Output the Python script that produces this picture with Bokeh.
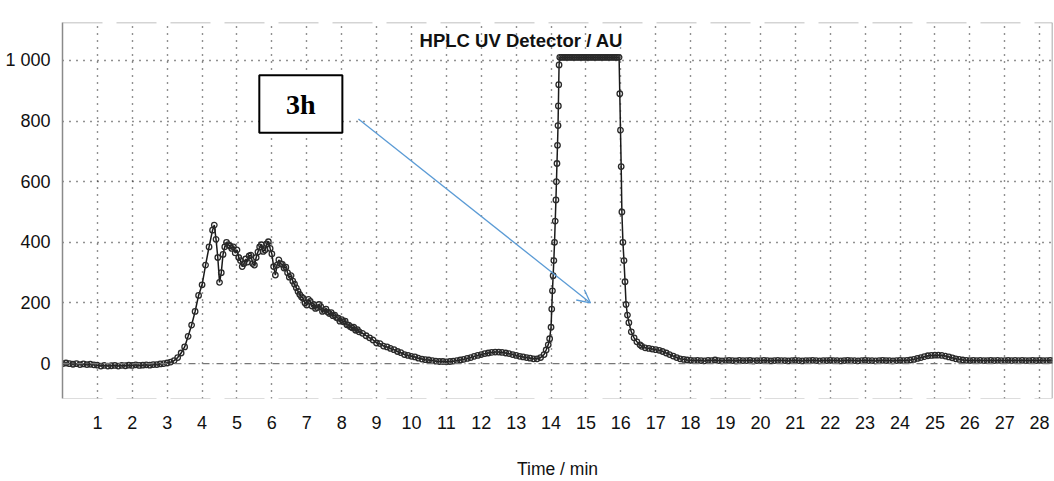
from bokeh.plotting import figure
from bokeh.models import (Range1d, FixedTicker, Span, Label, BoxAnnotation,
                          Arrow, OpenHead, ColumnDataSource)
from bokeh.embed import file_html
from bokeh.resources import INLINE

# ---------------- data ----------------
time_min = [
    0.0, 0.1, 0.2, 0.3, 0.4, 0.5, 0.6, 0.7, 0.8, 0.9, 1.0, 1.1, 1.2, 1.3, 1.4, 1.5, 1.6, 1.7, 1.8, 1.9,
    2.0, 2.1, 2.2, 2.3, 2.4, 2.5, 2.6, 2.7, 2.8, 2.9, 3.0, 3.1, 3.2, 3.3, 3.4, 3.5, 3.6, 3.7, 3.8, 3.9,
    4.0, 4.1, 4.2,
    4.30, 4.35, 4.40, 4.45, 4.50, 4.55, 4.60, 4.65, 4.70, 4.75, 4.80, 4.85, 4.90, 4.95,
    5.00, 5.05, 5.10, 5.15, 5.20, 5.25, 5.30, 5.35, 5.40, 5.45, 5.50, 5.55, 5.60, 5.65, 5.70, 5.75,
    5.80, 5.85, 5.90, 5.95, 6.00, 6.05, 6.10, 6.15, 6.20, 6.25, 6.30, 6.35, 6.40, 6.45, 6.50, 6.55,
    6.60, 6.65, 6.70, 6.75, 6.80, 6.85, 6.90, 6.95, 7.00, 7.05, 7.10, 7.15, 7.20, 7.25, 7.30, 7.35,
    7.40, 7.45, 7.50, 7.55, 7.60, 7.65, 7.70, 7.75, 7.80, 7.85, 7.90, 7.95, 8.00, 8.05, 8.10, 8.15,
    8.20, 8.25, 8.30, 8.35, 8.40, 8.45, 8.50,
    8.6, 8.7, 8.8, 8.9, 9.0, 9.1, 9.2, 9.3, 9.4, 9.5, 9.6, 9.7, 9.8, 9.9, 10.0, 10.1, 10.2, 10.3,
    10.4, 10.5, 10.6, 10.7, 10.8, 10.9, 11.0, 11.1, 11.2, 11.3, 11.4, 11.5, 11.6, 11.7, 11.8, 11.9,
    12.0, 12.1, 12.2, 12.3, 12.4, 12.5, 12.6, 12.7, 12.8, 12.9, 13.0, 13.1, 13.2, 13.3, 13.4, 13.5,
    13.6, 13.7,
    13.80, 13.86, 13.92, 13.96, 14.00, 14.02, 14.04, 14.06, 14.08, 14.10, 14.12, 14.14, 14.155,
    14.17, 14.185, 14.20, 14.21, 14.22, 14.23,
    14.25, 14.30, 14.35, 14.40, 14.45, 14.50, 14.55, 14.60, 14.65, 14.70, 14.75, 14.80, 14.85,
    14.90, 14.95, 15.00, 15.05, 15.10, 15.15, 15.20, 15.25, 15.30, 15.35, 15.40, 15.45, 15.50,
    15.55, 15.60, 15.65, 15.70, 15.75, 15.80, 15.85, 15.90, 15.95,
    15.97, 15.99, 16.01, 16.03, 16.06, 16.09, 16.12, 16.15, 16.19, 16.23, 16.30, 16.38, 16.46, 16.55,
    16.6, 16.7, 16.8, 16.9, 17.0, 17.1, 17.2, 17.3, 17.4, 17.5, 17.6, 17.7, 17.8, 17.9, 18.0,
    18.1, 18.2, 18.3, 18.4, 18.5, 18.6, 18.7, 18.8, 18.9, 19.0, 19.1, 19.2, 19.3, 19.4, 19.5, 19.6,
    19.7, 19.8, 19.9, 20.0, 20.1, 20.2, 20.3, 20.4, 20.5, 20.6, 20.7, 20.8, 20.9, 21.0, 21.1, 21.2,
    21.3, 21.4, 21.5, 21.6, 21.7, 21.8, 21.9, 22.0, 22.1, 22.2, 22.3, 22.4, 22.5, 22.6, 22.7, 22.8,
    22.9, 23.0, 23.1, 23.2, 23.3, 23.4, 23.5, 23.6, 23.7, 23.8, 23.9, 24.0, 24.1, 24.2,
    24.3, 24.4, 24.5, 24.6, 24.7, 24.8, 24.9, 25.0, 25.1, 25.2, 25.3, 25.4, 25.5, 25.6, 25.7, 25.8,
    25.9, 26.0, 26.1, 26.2, 26.3, 26.4, 26.5, 26.6, 26.7, 26.8, 26.9, 27.0, 27.1, 27.2, 27.3, 27.4,
    27.5, 27.6, 27.7, 27.8, 27.9, 28.0, 28.1, 28.2, 28.3, 28.4,
]
signal_au = [
    0, 2, 0, -2, 0, -3, -1, -3, -2, -4, -5, -8, -6, -8, -7, -6, -8, -6, -7, -5,
    -6, -4, -6, -5, -4, -5, -3, -3, -1, 0, 2, 5, 10, 20, 35, 55, 90, 127, 172, 225,
    260, 325, 385,
    440, 457, 410, 350, 268, 300, 360, 385, 400, 392, 388, 380, 385, 365,
    375, 350, 340, 320, 330, 345, 335, 355, 358, 330, 325, 350, 368, 385, 392, 370,
    375, 395, 402, 380, 362, 320, 292, 325, 342, 330, 327, 315, 318, 300, 285, 290,
    272, 262, 250, 238, 228, 220, 215, 200, 193, 212, 205, 190, 195, 182, 185, 195,
    188, 172, 175, 180, 170, 165, 168, 158, 160, 152, 150, 140, 145, 138, 140, 128,
    127, 122, 118, 120, 110, 112, 105,
    100, 92, 85, 78, 68, 66, 58, 55, 50, 46, 40, 36, 30, 27, 24, 22, 18, 15,
    13, 12, 10, 8, 7, 7, 6, 7, 8, 10, 12, 14, 17, 20, 24, 27,
    30, 33, 35, 37, 38, 38, 37, 35, 33, 30, 27, 24, 22, 20, 18, 16,
    16, 20,
    30, 45, 62, 82, 120, 180, 240, 290, 340, 400, 470, 540, 600,
    660, 720, 785, 850, 920, 985,
    1010, 1010, 1010, 1010, 1010, 1010, 1010, 1010, 1010, 1010, 1010, 1010, 1010,
    1010, 1010, 1010, 1010, 1010, 1010, 1010, 1010, 1010, 1010, 1010, 1010, 1010,
    1010, 1010, 1010, 1010, 1010, 1010, 1010, 1010, 1010,
    890, 770, 650, 500, 400, 340, 270, 195, 160, 135, 105, 85, 72, 62,
    57, 52, 50, 48, 46, 44, 40, 35, 30, 25, 20, 16, 14, 12, 11,
    10, 11, 10, 9, 11, 10, 12, 10, 9, 10, 11, 10, 9, 11, 10, 10,
    11, 9, 10, 10, 11, 10, 9, 10, 11, 10, 10, 9, 10, 11, 10, 9,
    10, 10, 11, 10, 9, 10, 10, 11, 10, 10, 9, 10, 11, 10, 10, 9,
    10, 11, 10, 10, 9, 10, 11, 10, 10, 9, 10, 11, 10, 11,
    12, 14, 17, 20, 23, 26, 27, 28, 28, 27, 25, 22, 19, 16, 14, 12,
    11, 10, 11, 10, 11, 10, 10, 11, 10, 11, 10, 10, 11, 10, 11, 10,
    11, 10, 10, 11, 10, 11, 10, 10, 11, 10,
]

x_ticks = list(range(1, 29))
y_ticks = [0, 200, 400, 600, 800, 1000]
y_tick_labels = {1000: "1 000"}

title_text = "HPLC UV Detector / AU"
x_title = "Time / min"
note_text = "3h"

# ---------------- figure ----------------
X0, X1 = 0.0, 28.37
Y0, Y1 = -115.0, 1125.0

p = figure(width=1054, height=481, output_backend="svg", toolbar_location=None,
           x_range=Range1d(X0, X1), y_range=Range1d(Y0, Y1),
           min_border_left=62, min_border_right=2, min_border_top=22, min_border_bottom=81)
p.background_fill_color = "white"
p.border_fill_color = "white"
p.outline_line_color = None

FONT = "Liberation Sans"

# x axis
p.xaxis.ticker = FixedTicker(ticks=x_ticks)
p.xaxis.axis_line_color = None
p.xaxis.major_tick_line_color = None
p.xaxis.minor_tick_line_color = None
p.xaxis.major_label_text_font = FONT
p.xaxis.major_label_text_font_size = "18px"
p.xaxis.major_label_text_color = "#111111"
p.xaxis.major_label_standoff = 11
p.xaxis.axis_label = x_title
p.xaxis.axis_label_text_font = FONT
p.xaxis.axis_label_text_font_style = "normal"
p.xaxis.axis_label_text_font_size = "17.5px"
p.xaxis.axis_label_text_color = "#111111"
p.xaxis.axis_label_standoff = 27

# y axis
p.yaxis.ticker = FixedTicker(ticks=y_ticks)
p.yaxis.major_label_overrides = y_tick_labels
p.yaxis.axis_line_color = "#8a8a8a"
p.yaxis.axis_line_width = 1.5
p.yaxis.major_tick_line_color = None
p.yaxis.minor_tick_line_color = None
p.yaxis.major_label_text_font = FONT
p.yaxis.major_label_text_font_size = "18px"
p.yaxis.major_label_text_color = "#111111"
p.yaxis.major_label_standoff = 6

# dotted grid
p.xgrid.ticker = FixedTicker(ticks=x_ticks)
p.ygrid.ticker = FixedTicker(ticks=[200, 400, 600, 800, 1000])
for g in (p.xgrid, p.ygrid):
    g.grid_line_color = "#222222"
    g.grid_line_dash = "1 6"
    g.grid_line_width = 1.4

# zero line and frame borders
p.add_layout(Span(location=0, dimension="width", line_color="#777777",
                  line_dash="7 3 1 3", line_width=1.2))
p.add_layout(Span(location=X1, dimension="height", line_color="#8a8a8a", line_width=1.5))
p.add_layout(Span(location=Y1, dimension="width", line_color="#aaaaaa",
                  line_dash="40 14", line_width=1.5))
p.add_layout(Span(location=Y0, dimension="width", line_color="#bbbbbb",
                  line_dash="40 14", line_width=1.2))

# chromatogram
src = ColumnDataSource(dict(t=time_min, v=signal_au))
p.line("t", "v", source=src, line_color="#1a1a1a", line_width=1.5)
p.scatter("t", "v", source=src, size=5.5, marker="circle", fill_color=None,
          line_color="#2a2a2a", line_width=1.3)

# title inside the plot
p.add_layout(Label(x=13.15, y=1066, text=title_text, text_font=FONT,
                   text_font_style="bold", text_font_size="18.5px",
                   text_align="center", text_baseline="middle", text_color="#111111"))

# "3h" note box
p.add_layout(BoxAnnotation(left=5.64, right=8.02, bottom=761, top=951,
                           fill_color="white", fill_alpha=1.0,
                           line_color="black", line_alpha=1.0, line_width=2))
p.add_layout(Label(x=6.83, y=856, text=note_text, text_font="Liberation Serif",
                   text_font_style="bold", text_font_size="28px",
                   text_align="center", text_baseline="middle", text_color="black"))

# blue arrow
p.add_layout(Arrow(x_start=8.48, y_start=807, x_end=15.13, y_end=200,
                   line_color="#5b9bd5", line_width=1.3,
                   end=OpenHead(size=13, line_color="#5b9bd5", line_width=1.3)))

open("out.html", "w").write(file_html(p, INLINE))
